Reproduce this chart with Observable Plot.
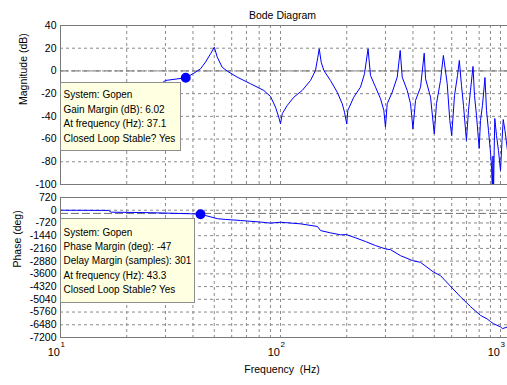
<!DOCTYPE html>
<html><head><meta charset="utf-8">
<script src="https://cdn.jsdelivr.net/npm/d3@7"></script>
<script src="https://cdn.jsdelivr.net/npm/@observablehq/plot@0.6"></script>
<style>
body{margin:0;background:#fff;}
#chart{position:relative;width:507px;height:385px;overflow:hidden;background:#fff;}
#chart svg{position:absolute;left:0;display:block;overflow:hidden;}
text{white-space:pre;}
</style></head><body><div id="chart"></div>
<script>
const title = "Bode Diagram";
const magLabel = "Magnitude (dB)";
const phaseLabel = "Phase (deg)";
const freqLabel = "Frequency  (Hz)";
const xDomain = [10, 1076];
const decades = [10, 100, 1000];
const decadeExp = ["1", "2", "3"];
const xGrid = [20,30,40,50,60,70,80,90,100,200,300,400,500,600,700,800,900,1000];
const magTicks = [40,20,0,-20,-40,-60,-80,-100];
const phaseTicks = [720,0,-720,-1440,-2160,-2880,-3600,-4320,-5040,-5760,-6480,-7200];

const magFreq = [10,20,29,30,37.1,40.4,43.3,45.6,48.1,50,51.6,54.3,57.3,63.6,73.1,84,90.1,94.9,98.2,100,
  101.8,107.3,115,125.5,136.9,144.2,147.8,150,153.1,157.4,168.7,181,190.8,195.4,200,
  202.3,215.3,231,240.9,250,256.5,270.4,284.9,294.9,300,305.5,322,339.3,350,357.5,376.7,390,400,
  410.9,433.1,450,456.4,480.9,500,511.7,533.7,550,572.5,588.2,600,618,637.6,650,664.8,678.9,700,
  715.2,730.4,750,761.7,777.8,800,811.1,828,850,863.8,882.1,900.6,910,918,924,930,936,942,959,979,1000,
  1016,1029,1048,1076];
const magDb = [-24,-16,-10.5,-8.4,-6.0,-2.0,1.9,7.7,15.1,20.9,12.1,3.3,-0.2,-5.5,-11.3,-17.2,-22.5,-31.9,-40.7,-46.6,
  -37.7,-30.4,-23.1,-17.2,-8.4,0.4,12.1,19.5,7.7,0.4,-8.4,-18.7,-28.9,-36.3,-46.6,
  -34.8,-23.1,-14.3,-2.5,19.5,-4.0,-14.3,-24.5,-34.8,-49.5,-28.9,-18.7,-5.5,18.0,-5.5,-17.2,-28.9,-51.0,
  -26.0,-14.3,15.6,-6.9,-23.1,-55.4,-28.9,-8.4,13.6,-11.3,-43.6,-56.9,-21.6,-4.0,9.2,-12.8,-30.4,-61.3,
  -34.8,-17.2,3.9,-21.6,-39.2,-68.3,-43.6,-30.4,-5.8,-34.8,-52.5,-71.8,-83.3,-106,-75,-106,-70,-41.9,-56.9,-70.1,-87.7,
  -61.3,-42.8,-52.5,-70.1];

const phaseFreq = [10,16.5,17,25.7,39,43.3,45.6,51.7,56.2,65.8,81.1,90.1,100,123.3,147.3,152,168.7,187.4,199.5,
  219.3,243.4,270.4,300.2,316.2,351.2,398.1,433.1,496.2,533.7,592.6,657.9,730.4,811.1,870,900.6,930,1000,1021,1076];
const phaseDeg = [0,-10,-110,-140,-200,-227,-300,-480,-520,-580,-670,-730,-680,-770,-920,-1150,-1280,-1390,-1380,
  -1560,-1770,-2000,-2190,-2230,-2570,-2850,-2950,-3500,-3700,-4300,-4900,-5450,-5950,-6150,-6300,-6420,-6600,-6700,-6600];

const gmFreq = 37.1, gmDb = -6.02;
const pmFreq = 43.3, pmDeg = -227;
const crossDb = 0, crossDeg = -180;
const gmTip = ["System: Gopen", "Gain Margin (dB): 6.02", "At frequency (Hz): 37.1", "Closed Loop Stable? Yes"];
const pmTip = ["System: Gopen", "Phase Margin (deg): -47", "Delay Margin (samples): 301", "At frequency (Hz): 43.3", "Closed Loop Stable? Yes"];

const FONT = "'Liberation Sans', Arial, Helvetica, sans-serif";
const gridStyle = {stroke: "#8a8a8a", strokeDasharray: "3,3", strokeWidth: 1};
const boxColor = "#7a7a7a";

const magData = magFreq.map((f, i) => ({f, v: magDb[i]}));
const phaseData = phaseFreq.map((f, i) => ({f, v: phaseDeg[i]}));

function tipBox(lines, yVal, w, h, offY, firstBase, lineH) {
  return (index, scales, values, dims) => {
    const sy = typeof scales.y === "function" ? scales.y : scales.scales.y;
    const py = sy(yVal);
    const x0 = dims.marginLeft, y0 = Math.round(py + offY);
    const g = d3.create("svg:g");
    g.append("rect").attr("x", x0 + 0.5).attr("y", y0 + 0.5).attr("width", w).attr("height", h)
      .attr("fill", "#ffffe1").attr("stroke", "#8c8c8c");
    lines.forEach((t, i) => g.append("text").attr("x", x0 + 3.5).attr("y", y0 + firstBase + i * lineH)
      .attr("text-anchor", "start").attr("fill", "#000").attr("font-size", 10).text(t));
    return g.node();
  };
}

const common = {
  width: 507, marginLeft: 60, marginRight: 0,
  style: {fontFamily: FONT, fontSize: "10.5px", color: "#000", background: "transparent", overflow: "hidden"},
  x: {type: "log", domain: xDomain, axis: null}
};

const magPlot = Plot.plot({
  ...common,
  height: 190, marginTop: 25, marginBottom: 6,
  y: {domain: [magTicks[magTicks.length - 1], magTicks[0]], ticks: magTicks, tickSize: 0, tickPadding: 4, label: null, tickFormat: d => String(d)},
  marks: [
    Plot.ruleX(xGrid, gridStyle),
    Plot.ruleY(magTicks, gridStyle),
    Plot.ruleY([crossDb], {stroke: "#6e6e6e", strokeDasharray: "8,3"}),
    Plot.line(magData, {x: "f", y: "v", stroke: "#0000ff", strokeWidth: 1, clip: true}),
    Plot.ruleX([xDomain[0]], {stroke: boxColor}),
    Plot.ruleY([magTicks[0]], {stroke: boxColor}),
    Plot.ruleY([magTicks[magTicks.length - 1]], {stroke: boxColor}),
    Plot.dot([{f: gmFreq, v: gmDb}], {x: "f", y: "v", r: 4.2, fill: "#0000ff", stroke: "#0000ff"}),
    tipBox(gmTip, gmDb, 120, 68, 4.8, 16, 14.5),
    Plot.text([title], {frameAnchor: "top", dy: -14, dx: -1.5, fontSize: 10.5, fill: "#000"}),
    Plot.text([magLabel], {frameAnchor: "left", rotate: -90, dx: -37, fontSize: 10.5, fill: "#000"})
  ]
});

const phasePlot = Plot.plot({
  ...common,
  height: 195, marginTop: 7, marginBottom: 48,
  y: {domain: [phaseTicks[phaseTicks.length - 1], phaseTicks[0]], ticks: phaseTicks, tickSize: 0, tickPadding: 4, label: null, tickFormat: d => String(d)},
  marks: [
    Plot.ruleX(xGrid, gridStyle),
    Plot.ruleY(phaseTicks, gridStyle),
    Plot.ruleY([crossDeg], {stroke: "#6e6e6e", strokeDasharray: "8,3"}),
    Plot.line(phaseData, {x: "f", y: "v", stroke: "#0000ff", strokeWidth: 1, clip: true}),
    Plot.ruleX([xDomain[0]], {stroke: boxColor}),
    Plot.ruleY([phaseTicks[0]], {stroke: boxColor}),
    Plot.ruleY([phaseTicks[phaseTicks.length - 1]], {stroke: boxColor}),
    Plot.dot([{f: pmFreq, v: pmDeg}], {x: "f", y: "v", r: 4.2, fill: "#0000ff", stroke: "#0000ff"}),
    tipBox(pmTip, pmDeg, 134, 84, 4, 17.5, 14.4),
    Plot.text(decades, {x: d => d, text: () => "10", frameAnchor: "bottom", textAnchor: "end", dx: -0.5, dy: 18, fontSize: 11, fill: "#000"}),
    Plot.text(decades, {x: d => d, text: (d, i) => decadeExp[i], frameAnchor: "bottom", textAnchor: "start", dx: 0, dy: 9, fontSize: 8, fill: "#000"}),
    Plot.text([freqLabel], {frameAnchor: "bottom", dy: 35.5, dx: -2, fontSize: 10.5, fill: "#000"}),
    Plot.text([phaseLabel], {frameAnchor: "left", rotate: -90, dx: -43, fontSize: 10.5, fill: "#000"})
  ]
});

const chart = document.getElementById("chart");
magPlot.style.top = "0px";
phasePlot.style.top = "190px";
chart.appendChild(magPlot);
chart.appendChild(phasePlot);
</script></body></html>
